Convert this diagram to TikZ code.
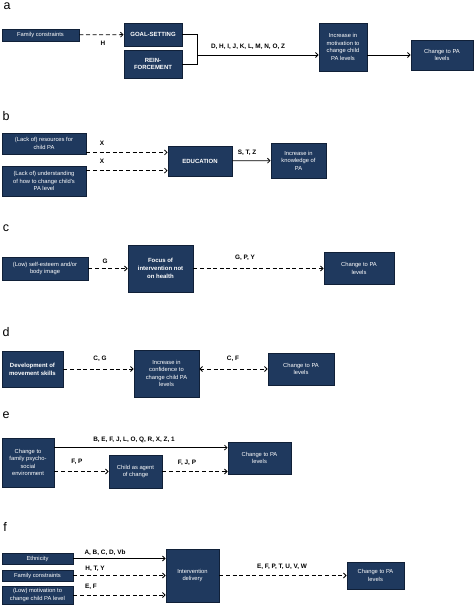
\documentclass[tikz,border=0pt]{standalone}
\usepackage{fontspec}
\setmainfont{Liberation Sans}
\usetikzlibrary{arrows.meta}
\definecolor{boxfill}{RGB}{31,57,94}
\definecolor{boxline}{RGB}{16,32,56}
\tikzset{
  box/.style={draw=boxline, line width=0.8pt, fill=boxfill, text=white, align=center,
    font=\fontsize{5.8}{7.6}\selectfont, inner sep=1pt},
  boldbox/.style={box, font=\fontsize{6}{7.8}\selectfont\bfseries},
  lab/.style={font=\fontsize{6.4}{7}\selectfont\bfseries, inner sep=0pt},
  panel/.style={font=\fontsize{12.5}{13}\selectfont, inner sep=0pt},
  arr/.style={line width=0.8pt, -{Straight Barb[length=2.6pt,width=5pt]}},
  darr/.style={arr, dash pattern=on 4pt off 2.6pt},
  line/.style={line width=0.8pt}
}
\begin{document}
\begin{tikzpicture}[x=1pt,y=-1pt]
\useasboundingbox (0,0) rectangle (474,606);
% ---------- a
\node[panel] (pa) at (7,6) {a};
\node[box, minimum width=77, minimum height=12] (fc1) at (40.5,35) {Family constraints};
\node[boldbox, minimum width=58, minimum height=23] (goal) at (153,34.5) {GOAL-SETTING};
\node[boldbox, minimum width=58, minimum height=28] (rein) at (153,64) {REIN-\\FORCEMENT};
\node[box, minimum width=48, minimum height=48] (motiv) at (343,47) {Increase in\\motivation to\\change child\\PA levels};
\node[box, minimum width=62, minimum height=30] (cha) at (442,55) {Change to PA\\levels};
\draw[darr] (fc1) -- (goal);
\node[lab] (la1) at (103,43) {H};
\draw[line] (goal.east) -- ++(15,0) coordinate (br1) |- (rein.east);
\coordinate (br2) at (197,55);
\draw[arr] (br2) -- (br2 -| motiv.west);
\node[lab] (la2) at (248,47) {D, H, I, J, K, L, M, N, O, Z};
\draw[arr] (motiv.east |- cha.west) -- (cha.west);
% ---------- b
\node[panel] (pb) at (6,116) {b};
\node[box, minimum width=84, minimum height=21] (r1) at (44,143.5) {(Lack of) resources for\\child PA};
\node[box, minimum width=84, minimum height=30] (r2) at (44,181) {(Lack of) understanding\\of how to change child's\\PA level};
\node[boldbox, minimum width=64, minimum height=30] (edu) at (200,161) {EDUCATION};
\node[box, minimum width=55, minimum height=35] (know) at (298.5,160.5) {Increase in\\knowledge of\\PA};
\draw[darr] ([yshift=2pt]r1.south east) -- ([yshift=2pt]r1.south east -| edu.west);
\draw[darr] ([yshift=-5pt]r2.north east) -- ([yshift=-5pt]r2.north east -| edu.west);
\node[lab] (lb1) at (102,143) {X};
\node[lab] (lb2) at (102,161) {X};
\draw[arr] (edu) -- (know);
\node[lab] (lb3) at (247,153) {S, T, Z};
% ---------- c
\node[panel] (pc) at (6,228) {c};
\node[box, minimum width=86, minimum height=23] (se) at (45,268.5) {(Low) self-esteem and/or\\body image};
\node[boldbox, minimum width=65, minimum height=47] (focus) at (160.5,268.5) {Focus of\\intervention not\\on health};
\node[box, minimum width=70, minimum height=32] (chc) at (359,268.5) {Change to PA\\levels};
\draw[darr] (se) -- (focus);
\node[lab] (lc1) at (105,261) {G};
\draw[darr] (focus) -- (chc);
\node[lab] (lc2) at (245,258) {G, P, Y};
% ---------- d
\node[panel] (pd) at (6,332) {d};
\node[boldbox, minimum width=61, minimum height=36] (dev) at (32.5,369) {Development of\\movement skills};
\node[box, minimum width=65, minimum height=47] (conf) at (166.5,373.5) {Increase in\\confidence to\\change child PA\\levels};
\node[box, minimum width=66, minimum height=32] (chd) at (301,369) {Change to PA\\levels};
\draw[darr] (dev.east) -- (dev.east -| conf.west);
\node[lab] (ld1) at (100,359) {C, G};
\draw[darr, {Straight Barb[length=2.6pt,width=5pt]}-{Straight Barb[length=2.6pt,width=5pt]}] (chd.west -| conf.east) -- (chd.west);
\node[lab] (ld2) at (233,359) {C, F};
% ---------- e
\node[panel] (pe) at (6,415) {e};
\node[box, minimum width=52, minimum height=49] (fam) at (28,462.5) {Change to\\family psycho-\\social\\environment};
\node[box, minimum width=53, minimum height=33] (child) at (135.5,471.5) {Child as agent\\of change};
\node[box, minimum width=63, minimum height=32] (che) at (259.5,458) {Change to PA\\levels};
\draw[arr] ([yshift=-10pt]fam.north east) -- ([yshift=-10pt]fam.north east -| che.west);
\node[lab] (le1) at (134,439.5) {B, E, F, J, L, O, Q, R, X, Z, 1};
\draw[darr] (fam.east |- child.west) -- (child.west);
\node[lab] (le2) at (77,462) {F, P};
\draw[darr] (child.east) -- (child.east -| che.west);
\node[lab] (le3) at (187,463) {F, J, P};
% ---------- f
\node[panel] (pf) at (5,527) {f};
\node[box, minimum width=71, minimum height=11] (eth) at (37.5,558.5) {Ethnicity};
\node[box, minimum width=71, minimum height=11] (fc2) at (37.5,575.5) {Family constraints};
\node[box, minimum width=71, minimum height=18] (lm) at (37.5,595) {(Low) motivation to\\change child PA level};
\node[box, minimum width=53, minimum height=53] (inter) at (192.5,575.5) {Intervention\\delivery};
\node[box, minimum width=57, minimum height=27] (chf) at (375.5,575.5) {Change to PA\\levels};
\draw[arr] (eth.east) -- (eth.east -| inter.west);
\node[lab] (lf1) at (105,553) {A, B, C, D, Vb};
\draw[darr] (fc2.east) -- (fc2.east -| inter.west);
\node[lab] (lf2) at (95,569) {H, T, Y};
\draw[darr] (lm.east) -- (lm.east -| inter.west);
\node[lab] (lf3) at (91,587) {E, F};
\draw[darr] (inter) -- (chf);
\node[lab] (lf4) at (282,567) {E, F, P, T, U, V, W};
\end{tikzpicture}
\end{document}
